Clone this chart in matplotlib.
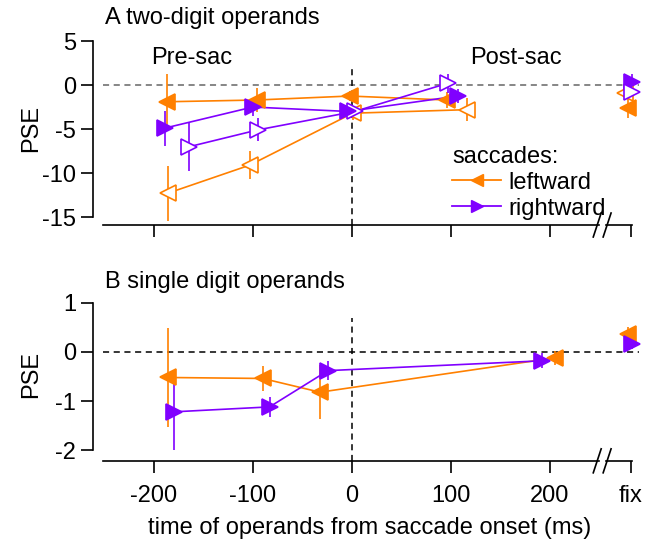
import matplotlib
matplotlib.use("Agg")
import matplotlib.pyplot as plt
from matplotlib.lines import Line2D

plt.rcParams['font.family'] = ['Liberation Sans', 'DejaVu Sans']
plt.rcParams['font.size'] = 17
plt.rcParams['axes.unicode_minus'] = False

ORANGE = '#ff8000'
PURPLE = '#8000ff'

FIX = 282
xticks = [-200, -100, 0, 100, 200, FIX]
xticklabels = ['-200', '-100', '0', '100', '200', 'fix']

# ---- Panel A: two-digit operands ----
# leftward, filled
A_lf_x = [-187, -96, -2, 96]
A_lf_y = [-1.9, -1.7, -1.25, -1.7]
A_lf_e = [3.2, 1.4, 0.6, 0.9]
# leftward, open
A_lo_x = [-186, -103, 1, 116]
A_lo_y = [-12.3, -9.1, -3.2, -2.8]
A_lo_e = [3.1, 1.6, 0.8, 1.3]
# rightward, filled
A_rf_x = [-189, -100, -4, 107]
A_rf_y = [-4.9, -2.5, -3.0, -1.25]
A_rf_e = [2.0, 1.0, 0.7, 0.8]
# rightward, open
A_ro_x = [-164, -95, 3, 97]
A_ro_y = [-7.0, -5.1, -3.0, 0.2]
A_ro_e = [2.8, 1.3, 0.5, 1.1]
# fixation values
A_fix_x = [FIX - 3, FIX - 6, FIX + 1, FIX + 1]
A_fix_y = [-2.6, -0.9, 0.35, -0.8]
A_fix_e = [1.2, 0.5, 0.9, 0.5]

# ---- Panel B: single digit operands ----
B_l_x = [-186, -90, -32, 205]
B_l_y = [-0.52, -0.54, -0.82, -0.12]
B_l_e = [1.0, 0.25, 0.55, 0.15]
B_r_x = [-179, -83, -24, 192]
B_r_y = [-1.22, -1.12, -0.38, -0.18]
B_r_e = [0.77, 0.2, 0.2, 0.15]
B_fix_x = [FIX - 3, FIX + 1]
B_fix_y = [0.36, 0.16]
B_fix_e = [0.15, 0.1]

fig = plt.figure(figsize=(6.51, 5.46), dpi=100)
axA = fig.add_axes([0.1433, 0.5879, 0.841, 0.3418])
axB = fig.add_axes([0.1433, 0.156, 0.841, 0.2936])

XLIM = (-261, 292)
MS = 12


def series(ax, x, y, e, color, marker, filled, line=True):
    ax.errorbar(x, y, yerr=e, fmt='none', ecolor=color, elinewidth=1.2,
                capsize=0, zorder=2)
    if line:
        ax.plot(x, y, color=color, lw=1.2, zorder=3)
    ax.plot(x, y, ls='none', marker=marker, ms=MS,
            mfc=color if filled else 'white', mec=color, mew=1.2, zorder=4)


def style(ax, ylim, yticks, ybounds):
    ax.set_xlim(*XLIM)
    ax.set_ylim(*ylim)
    for s in ['top', 'right', 'bottom']:
        ax.spines[s].set_visible(False)
    ax.spines['left'].set_bounds(*ybounds)
    ax.spines['left'].set_linewidth(1.2)
    ax.set_yticks(yticks)
    ax.set_yticklabels([str(t) for t in yticks])
    ax.set_xticks(xticks)
    ax.tick_params(axis='both', length=8.5, width=1.2, direction='out')
    ax.tick_params(axis='y', pad=4)
    ax.tick_params(axis='x', pad=9)
    tr = ax.get_xaxis_transform()
    ax.plot([-251, 250], [0, 0], color='black', lw=1.2, transform=tr, clip_on=False)
    ax.plot([257, FIX + 1], [0, 0], color='black', lw=1.2, transform=tr, clip_on=False)
    # break marks
    h = 12 / (ax.get_position().height * 546)
    for bx in [248, 258]:
        ax.plot([bx - 4, bx + 4], [-h, h], color='black', lw=1.2,
                transform=tr, clip_on=False)


# Panel A
style(axA, (-15.9, 5.3), [5, 0, -5, -10, -15], (-15, 5))
axA.set_xticklabels([])
axA.hlines(0, -251, 290, colors='#666666', linestyles=(0, (4, 3)), lw=1.1, zorder=1)
axA.vlines(0, -15.9, 1.9, colors='black', linestyles=(0, (4, 3)), lw=1.1, zorder=1)

series(axA, A_lo_x, A_lo_y, A_lo_e, ORANGE, '<', False)
series(axA, A_lf_x, A_lf_y, A_lf_e, ORANGE, '<', True)
series(axA, A_ro_x, A_ro_y, A_ro_e, PURPLE, '>', False)
series(axA, A_rf_x, A_rf_y, A_rf_e, PURPLE, '>', True)
# fixation
series(axA, [A_fix_x[1]], [A_fix_y[1]], [A_fix_e[1]], ORANGE, '<', False, line=False)
series(axA, [A_fix_x[0]], [A_fix_y[0]], [A_fix_e[0]], ORANGE, '<', True, line=False)
series(axA, [A_fix_x[2]], [A_fix_y[2]], [A_fix_e[2]], PURPLE, '>', True, line=False)
series(axA, [A_fix_x[3]], [A_fix_y[3]], [A_fix_e[3]], PURPLE, '>', False, line=False)

axA.text(-162, 3.07, 'Pre-sac', ha='center', va='center')
axA.text(166, 3.07, 'Post-sac', ha='center', va='center')
axA.set_ylabel('PSE')
axA.yaxis.set_label_coords(-0.093, 0.515)

handles = [Line2D([], [], color=ORANGE, marker='<', ms=9, lw=1.3),
           Line2D([], [], color=PURPLE, marker='>', ms=9, lw=1.3)]
leg = axA.legend(handles, ['leftward', 'rightward'], title='saccades:',
                 frameon=False, loc='upper left', bbox_to_anchor=(0.655, 0.425),
                 alignment='left', handlelength=2.1, handletextpad=0.3,
                 borderpad=0, borderaxespad=0, labelspacing=0.17,
                 fontsize=17, title_fontsize=17)

# Panel B
style(axB, (-2.22, 1.05), [1, 0, -1, -2], (-2, 1))
axB.set_xticklabels(xticklabels)
axB.hlines(0, -251, 290, colors='black', linestyles=(0, (4, 3)), lw=1.1, zorder=1)
axB.vlines(0, -2.22, 0.69, colors='black', linestyles=(0, (4, 3)), lw=1.1, zorder=1)

series(axB, B_l_x, B_l_y, B_l_e, ORANGE, '<', True)
series(axB, B_r_x, B_r_y, B_r_e, PURPLE, '>', True)
series(axB, [B_fix_x[0]], [B_fix_y[0]], [B_fix_e[0]], ORANGE, '<', True, line=False)
series(axB, [B_fix_x[1]], [B_fix_y[1]], [B_fix_e[1]], PURPLE, '>', True, line=False)

axB.set_ylabel('PSE')
axB.yaxis.set_label_coords(-0.093, 0.54)

fig.text(105 / 651, 1 - 18 / 546, 'A two-digit operands', ha='left', va='center')
fig.text(105 / 651, 1 - 282 / 546, 'B single digit operands', ha='left', va='center')
fig.text(370 / 651, 1 - 528 / 546, 'time of operands from saccade onset (ms)',
         ha='center', va='center')

fig.savefig('out.png', dpi=100)
